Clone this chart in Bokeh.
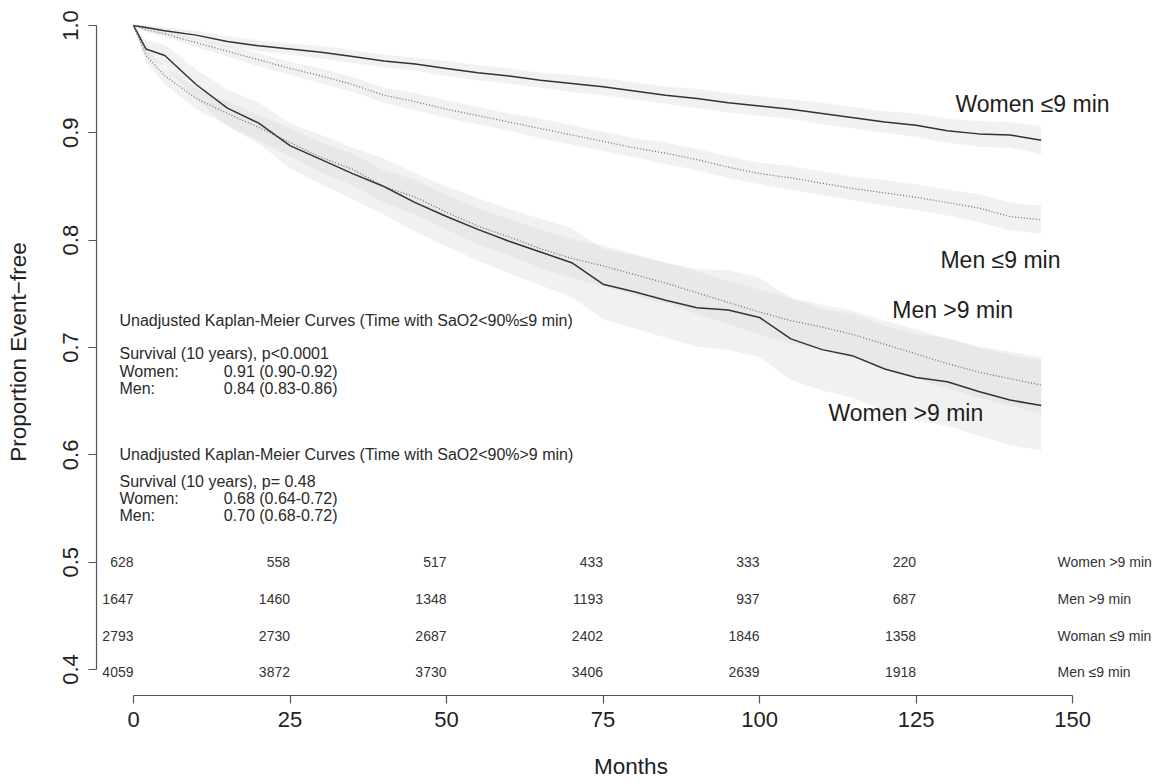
from bokeh.plotting import figure
from bokeh.models import ColumnDataSource, FixedTicker, PrintfTickFormatter
from bokeh.core.properties import value
from bokeh.embed import file_html
from bokeh.resources import INLINE

# ---------------- data ----------------
months = [0, 2, 5, 10, 15, 20, 25, 30, 35, 40, 45, 50, 55, 60, 65, 70, 75, 80, 85,
          90, 95, 100, 105, 110, 115, 120, 125, 130, 135, 140, 145]

women_le9 = [1.000, 0.998, 0.995, 0.991, 0.985, 0.981, 0.978, 0.975, 0.971, 0.967, 0.964,
             0.960, 0.956, 0.953, 0.949, 0.946, 0.943, 0.939, 0.935, 0.932, 0.928, 0.925,
             0.922, 0.918, 0.914, 0.910, 0.907, 0.902, 0.899, 0.898, 0.893]
women_le9_lo = [1.000, 0.996, 0.992, 0.987, 0.980, 0.976, 0.973, 0.969, 0.965, 0.961, 0.958,
                0.953, 0.949, 0.946, 0.942, 0.938, 0.935, 0.931, 0.927, 0.923, 0.919, 0.916,
                0.913, 0.908, 0.904, 0.900, 0.896, 0.891, 0.887, 0.886, 0.880]
women_le9_hi = [1.000, 1.000, 0.998, 0.995, 0.990, 0.986, 0.983, 0.981, 0.977, 0.973, 0.970,
                0.967, 0.963, 0.960, 0.956, 0.954, 0.951, 0.947, 0.943, 0.941, 0.937, 0.934,
                0.931, 0.928, 0.924, 0.920, 0.918, 0.913, 0.911, 0.910, 0.906]

men_le9 = [1.000, 0.996, 0.992, 0.984, 0.976, 0.968, 0.960, 0.953, 0.945, 0.935, 0.929,
           0.922, 0.916, 0.910, 0.904, 0.898, 0.892, 0.886, 0.881, 0.875, 0.868, 0.862,
           0.858, 0.853, 0.848, 0.844, 0.840, 0.835, 0.830, 0.822, 0.819]
men_le9_lo = [1.000, 0.994, 0.989, 0.980, 0.971, 0.962, 0.954, 0.946, 0.938, 0.928, 0.921,
              0.914, 0.908, 0.902, 0.895, 0.889, 0.883, 0.877, 0.871, 0.865, 0.858, 0.852,
              0.847, 0.842, 0.837, 0.832, 0.828, 0.823, 0.817, 0.809, 0.806]
men_le9_hi = [1.000, 0.998, 0.995, 0.988, 0.981, 0.974, 0.966, 0.960, 0.952, 0.942, 0.937,
              0.930, 0.924, 0.918, 0.913, 0.907, 0.901, 0.895, 0.891, 0.885, 0.878, 0.872,
              0.869, 0.864, 0.859, 0.856, 0.852, 0.847, 0.843, 0.835, 0.832]

women_gt9 = [1.000, 0.978, 0.972, 0.945, 0.923, 0.909, 0.888, 0.875, 0.862, 0.850, 0.835,
             0.822, 0.810, 0.799, 0.789, 0.779, 0.759, 0.752, 0.744, 0.737, 0.735, 0.728,
             0.708, 0.698, 0.692, 0.680, 0.672, 0.668, 0.659, 0.651, 0.646]
women_gt9_lo = [1.000, 0.970, 0.962, 0.931, 0.906, 0.890, 0.867, 0.852, 0.838, 0.824, 0.808,
                0.794, 0.781, 0.769, 0.758, 0.747, 0.726, 0.718, 0.709, 0.701, 0.698, 0.691,
                0.670, 0.660, 0.653, 0.640, 0.632, 0.627, 0.618, 0.609, 0.604]
women_gt9_hi = [1.000, 0.986, 0.982, 0.959, 0.940, 0.928, 0.909, 0.898, 0.886, 0.876, 0.862,
                0.850, 0.839, 0.829, 0.820, 0.811, 0.792, 0.786, 0.779, 0.773, 0.772, 0.765,
                0.746, 0.736, 0.731, 0.720, 0.712, 0.709, 0.700, 0.693, 0.688]

men_gt9 = [1.000, 0.972, 0.953, 0.932, 0.918, 0.905, 0.891, 0.877, 0.866, 0.850, 0.840,
           0.826, 0.813, 0.803, 0.792, 0.783, 0.776, 0.768, 0.760, 0.751, 0.742, 0.733,
           0.725, 0.719, 0.712, 0.703, 0.694, 0.685, 0.677, 0.671, 0.665]
men_gt9_lo = [1.000, 0.966, 0.945, 0.922, 0.907, 0.893, 0.878, 0.863, 0.851, 0.835, 0.824,
              0.810, 0.796, 0.786, 0.774, 0.765, 0.757, 0.749, 0.741, 0.731, 0.722, 0.712,
              0.704, 0.698, 0.690, 0.681, 0.671, 0.662, 0.653, 0.646, 0.639]
men_gt9_hi = [1.000, 0.978, 0.961, 0.942, 0.929, 0.917, 0.904, 0.891, 0.881, 0.865, 0.856,
              0.842, 0.830, 0.820, 0.810, 0.801, 0.795, 0.787, 0.779, 0.771, 0.762, 0.754,
              0.746, 0.740, 0.734, 0.725, 0.717, 0.708, 0.701, 0.696, 0.691]

# numbers at risk
risk_months = [0, 25, 50, 75, 100, 125]
risk_groups = ["Women >9 min", "Men >9 min", "Woman \u22649 min", "Men \u22649 min"]
risk_women_gt9 = [628, 558, 517, 433, 333, 220]
risk_men_gt9 = [1647, 1460, 1348, 1193, 937, 687]
risk_women_le9 = [2793, 2730, 2687, 2402, 1846, 1358]
risk_men_le9 = [4059, 3872, 3730, 3406, 2639, 1918]

x_ticks = [0, 25, 50, 75, 100, 125, 150]
y_ticks = [0.4, 0.5, 0.6, 0.7, 0.8, 0.9, 1.0]

curve_labels = ["Women \u22649 min", "Men \u22649 min", "Men >9 min", "Women >9 min"]

note_block1 = ["Unadjusted Kaplan-Meier Curves (Time with SaO2<90%\u22649 min)",
               "Survival (10 years), p<0.0001", "Women:", "Men:"]
note_vals1 = ["0.91 (0.90-0.92)", "0.84 (0.83-0.86)"]
note_block2 = ["Unadjusted Kaplan-Meier Curves (Time with SaO2<90%>9 min)",
               "Survival (10 years), p= 0.48", "Women:", "Men:"]
note_vals2 = ["0.68 (0.64-0.72)", "0.70 (0.68-0.72)"]

# ---------------- figure ----------------
FONT = "Liberation Sans"
p = figure(width=1165, height=781, x_range=(-5.91, 164.85), y_range=(0.3758, 1.0158),
           output_backend="svg", toolbar_location=None,
           min_border_left=96, min_border_right=0, min_border_top=8, min_border_bottom=85,
           x_axis_label="Months", y_axis_label="Proportion Event\u2212free")
p.outline_line_color = None
p.grid.visible = False

for ax in (p.xaxis[0], p.yaxis[0]):
    ax.minor_tick_line_color = None
    ax.major_tick_in = 0
    ax.major_tick_out = 8
    ax.axis_line_color = "#555555"
    ax.major_tick_line_color = "#555555"
    ax.axis_line_width = 1.2
    ax.major_tick_line_width = 1.2
    ax.major_label_text_font = FONT
    ax.major_label_text_font_size = "22px"
    ax.major_label_text_color = "#222222"
    ax.axis_label_text_font = FONT
    ax.axis_label_text_font_size = "22.5px"
    ax.axis_label_text_font_style = "normal"
    ax.axis_label_text_color = "#222222"

p.xaxis[0].bounds = (0, 150)
p.xaxis[0].ticker = FixedTicker(ticks=x_ticks)
p.xaxis[0].major_label_standoff = 8
p.xaxis[0].axis_label_standoff = 24
p.yaxis[0].bounds = (0.4, 1.0)
p.yaxis[0].ticker = FixedTicker(ticks=y_ticks)
p.yaxis[0].formatter = PrintfTickFormatter(format="%.1f")
p.yaxis[0].major_label_orientation = "parallel"
p.yaxis[0].major_label_standoff = 10
p.yaxis[0].axis_label_standoff = 30

# confidence bands
band_color = "#dddddd"
for lo, hi in [(women_gt9_lo, women_gt9_hi), (men_gt9_lo, men_gt9_hi),
               (men_le9_lo, men_le9_hi), (women_le9_lo, women_le9_hi)]:
    p.varea(x=months, y1=lo, y2=hi, fill_color=band_color, fill_alpha=0.4)

# curves
solid = dict(line_color="#333333", line_width=1.5)
dotted = dict(line_color="#6a6a6a", line_width=1.2, line_dash="1 2")
p.line(months, women_le9, **solid)
p.line(months, women_gt9, **solid)
p.line(months, men_le9, **dotted)
p.line(months, men_gt9, **dotted)

# curve labels
lab_src = ColumnDataSource(dict(x=[131.3, 128.9, 121.2, 111.0],
                                y=[0.9265, 0.7814, 0.735, 0.639], t=curve_labels))
p.text(x="x", y="y", text="t", source=lab_src, text_font=value(FONT),
       text_font_size="23px", text_color="#1e1e1e", text_baseline="middle", text_align="left")

# annotation blocks
note_x = -2.24
val_x = 14.4
y1 = [0.7256, 0.694, 0.6772, 0.6614]
y2 = [0.600, 0.5749, 0.5591, 0.5433]
for lines, vals, ys in [(note_block1, note_vals1, y1), (note_block2, note_vals2, y2)]:
    src = ColumnDataSource(dict(x=[note_x] * 4, y=ys, t=lines))
    p.text(x="x", y="y", text="t", source=src, text_font=value(FONT), text_font_size="16px",
           text_color="#2a2a2a", text_baseline="middle", text_align="left")
    src2 = ColumnDataSource(dict(x=[val_x] * 2, y=ys[2:], t=vals))
    p.text(x="x", y="y", text="t", source=src2, text_font=value(FONT), text_font_size="16px",
           text_color="#2a2a2a", text_baseline="middle", text_align="left")

# numbers at risk
row_y = [0.5, 0.4656, 0.431, 0.3977]
for vals, ry, grp in zip([risk_women_gt9, risk_men_gt9, risk_women_le9, risk_men_le9], row_y, risk_groups):
    src = ColumnDataSource(dict(x=risk_months, y=[ry] * len(vals), t=[str(v) for v in vals]))
    p.text(x="x", y="y", text="t", source=src, text_font=value(FONT), text_font_size="14px",
           text_color="#333333", text_baseline="middle", text_align="right")
    gsrc = ColumnDataSource(dict(x=[147.6], y=[ry], t=[grp]))
    p.text(x="x", y="y", text="t", source=gsrc, text_font=value(FONT), text_font_size="14px",
           text_color="#333333", text_baseline="middle", text_align="left")

open("out.html", "w").write(file_html(p, INLINE))
